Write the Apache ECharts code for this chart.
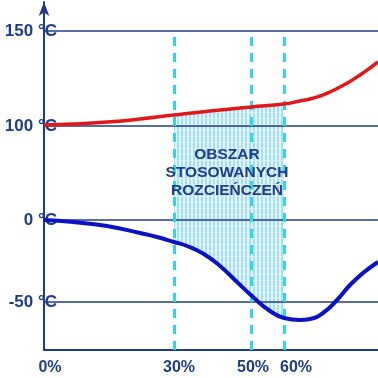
<!DOCTYPE html>
<html><head><meta charset="utf-8">
<script src="https://cdn.jsdelivr.net/npm/echarts@6/dist/echarts.min.js"></script>
<style>html,body{margin:0;padding:0;background:#fff}#c{width:378px;height:378px}</style>
</head><body><div id="c"></div>
<script>
// Schematic axes: positions are in axis units along each axis (the original is not to scale)
const yTickPos = [48, 130, 224, 319];
const yTickLabels = ['-50 °C', '0 °C', '100 °C', '150 °C'];
const xLabelPos = [6, 135, 209, 252];
const xTickLabels = ['0%', '30%', '50%', '60%'];
const dashedLinePos = [130, 207, 240];
const dashedTop = 319;

// Boiling curve (red)
const redX = [0, 29, 63, 96, 130, 166, 207, 240, 256, 266, 276, 286, 296, 306, 316, 326, 334];
const redY = [225, 226, 228, 231, 235, 239, 243, 246, 249, 251, 254, 258, 263, 268.5, 275, 282, 288];
// Freezing curve (blue)
const blueX = [0, 29, 63, 96, 113, 130, 143, 159, 176, 193, 209, 226, 240, 256, 266, 279, 293, 306, 319, 334];
const blueY = [130, 128, 124, 117, 113, 108, 104, 96.5, 84, 68, 53, 39, 32, 30, 31, 37, 50, 65, 77, 88];

const regionText = 'OBSZAR\nSTOSOWANYCH\nROZCIEŃCZEŃ';
const fillFrom = 130, fillTo = 240;

const navy = '#1f3c86';
const font = '"Liberation Sans", Arial, sans-serif';

const pc = document.createElement('canvas');
pc.width = 4; pc.height = 6;
const g = pc.getContext('2d');
g.fillStyle = '#e2f5fb'; g.fillRect(0, 0, 4, 6);
g.fillStyle = '#a2ddf2'; g.fillRect(1, 0, 2, 6);
g.fillStyle = '#c8edf8'; g.fillRect(1, 4, 2, 1);

const red = redX.map((x, i) => [x, redY[i]]);
const blue = blueX.map((x, i) => [x, blueY[i]]);
const fillTop = red.filter(p => p[0] >= fillFrom && p[0] <= fillTo);
const fillBot = blue.filter(p => p[0] >= fillFrom && p[0] <= fillTo).reverse();

const chart = echarts.init(document.getElementById('c'));
chart.setOption({
  animation: false,
  grid: { left: 44, right: 0, top: 2, bottom: 28, containLabel: false },
  xAxis: {
    type: 'value', min: 0, max: 334,
    axisLine: { show: true, lineStyle: { color: navy, width: 2 } },
    axisTick: { show: false },
    splitLine: { show: false },
    axisLabel: {
      customValues: xLabelPos,
      formatter: v => xTickLabels[xLabelPos.indexOf(v)] || '',
      color: navy, fontSize: 16, fontWeight: 'bold', fontFamily: font, margin: 10,
      showMinLabel: true, showMaxLabel: true
    }
  },
  yAxis: {
    type: 'value', min: 0, max: 348,
    axisLine: { show: true, symbol: ['none', 'arrow'], symbolSize: [8, 14], lineStyle: { color: navy, width: 2 } },
    axisTick: { show: false },
    splitLine: { show: false },
    axisLabel: {
      customValues: yTickPos,
      formatter: v => yTickLabels[yTickPos.indexOf(v)] || '',
      color: navy, fontSize: 17, fontWeight: 'bold', fontFamily: font, margin: -13
    }
  },
  series: [
    {
      type: 'custom', z: 1, silent: true,
      data: [0],
      renderItem: (params, api) => ({
        type: 'polygon',
        shape: { points: fillTop.concat(fillBot).map(p => api.coord(p)), smooth: 0 },
        style: { fill: { image: pc, repeat: 'repeat' }, stroke: null }
      })
    },
    {
      type: 'line', data: [], z: 2,
      markLine: {
        silent: true, symbol: ['none', 'none'], label: { show: false },
        lineStyle: { color: navy, width: 1.5, type: 'solid' },
        data: yTickPos.map(v => ({ yAxis: v }))
      }
    },
    {
      type: 'line', data: [], z: 3,
      markLine: {
        silent: true, symbol: ['none', 'none'], label: { show: false },
        lineStyle: { color: '#35d4e6', width: 3, type: [9, 7] },
        data: dashedLinePos.map(x => [{ coord: [x, 0] }, { coord: [x, dashedTop] }])
      }
    },
    {
      type: 'line', data: red, smooth: 0.5, symbol: 'none', z: 5,
      lineStyle: { color: '#e01818', width: 3.5 }
    },
    {
      type: 'line', data: blue, smooth: 0.5, symbol: 'none', z: 5,
      lineStyle: { color: '#0c12c4', width: 4 }
    }
  ],
  graphic: [{
    type: 'text', x: 227, y: 173, z: 10,
    style: {
      text: regionText, fill: navy, font: 'bold 15.5px ' + font,
      align: 'center', verticalAlign: 'middle', lineHeight: 18
    }
  }]
});
</script></body></html>
